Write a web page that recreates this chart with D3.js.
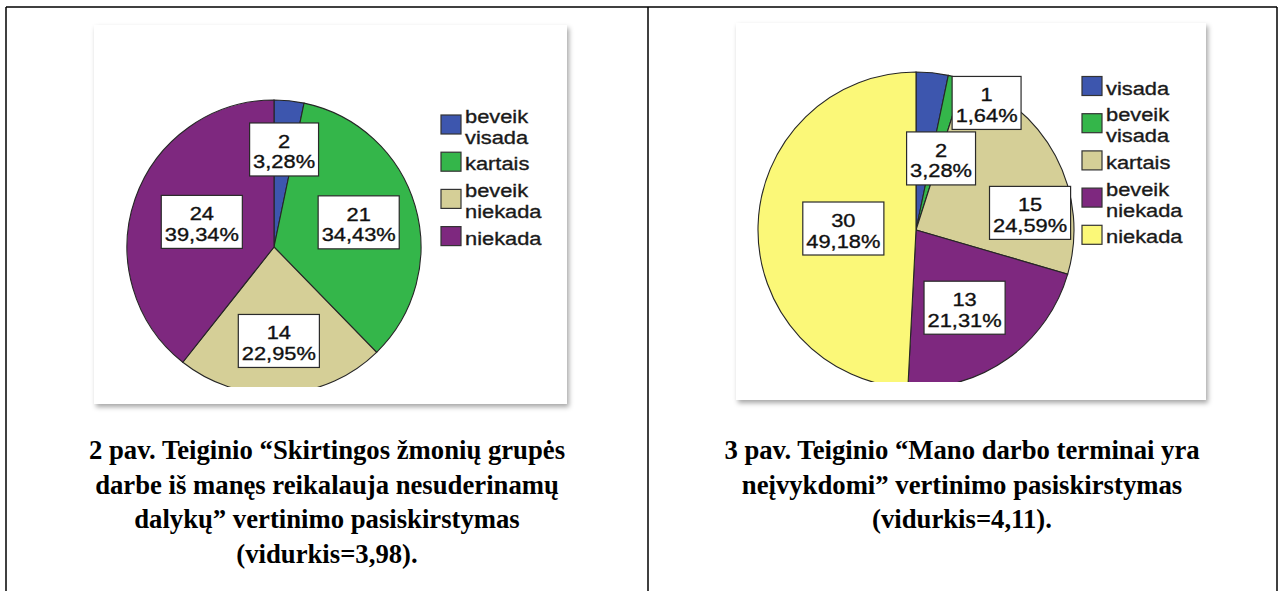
<!DOCTYPE html>
<html><head><meta charset="utf-8">
<script src="https://cdn.jsdelivr.net/npm/d3@7"></script>
<style>body{margin:0;background:#fff;} svg{display:block;}</style>
</head><body>
<svg id="c" width="1283" height="591"></svg>
<script>
// ---- data ----
const chart1Categories = ["beveik visada", "kartais", "beveik niekada", "niekada"];
const chart1Counts = [2, 21, 14, 24];
const chart2Categories = ["visada", "beveik visada", "kartais", "beveik niekada", "niekada"];
const chart2Counts = [2, 1, 15, 13, 30];
const caption1Lines = ["2 pav. Teiginio “Skirtingos žmonių grupės", "darbe iš manęs reikalauja nesuderinamų", "dalykų” vertinimo pasiskirstymas", "(vidurkis=3,98)."];
const caption2Lines = ["3 pav. Teiginio “Mano darbo terminai yra", "neįvykdomi” vertinimo pasiskirstymas", "(vidurkis=4,11)."];

// ---- styling / layout (kept separate from data) ----
const chart1Colors = ["#3d56ae", "#34b64a", "#d5cf97", "#7e287f"];
const chart2Colors = ["#3d56ae", "#34b64a", "#d5cf97", "#7e287f", "#fbf878"];
const chart1LabelRadius = [0.667, 0.60, 0.64, 0.52];
const chart1LabelShift = [0, 0, 0, 0];
const chart2LabelRadius = [0.48, 0.92, 0.73, 0.58, 0.46];
const chart2LabelShift = [13.4, 14.3, 19.5, 3.4, -0.3];

const svg = d3.select("#c");
const defs = svg.append("defs");
const f = defs.append("filter").attr("id", "sh").attr("x", "-5%").attr("y", "-5%").attr("width", "115%").attr("height", "115%");
f.append("feDropShadow").attr("dx", 2).attr("dy", 3).attr("stdDeviation", 2.5).attr("flood-color", "#000").attr("flood-opacity", 0.35);

// table borders
const bc = "#000";
[[6, 7, 1277, 7], [6, 7, 6, 591], [648, 7, 648, 591], [1277, 7, 1277, 591]].forEach(l =>
  svg.append("line").attr("x1", l[0]).attr("y1", l[1]).attr("x2", l[2]).attr("y2", l[3])
    .attr("stroke", bc).attr("stroke-width", 1.5));

const SX = 1.15;
const fontSans = "'Liberation Sans', Arial, sans-serif";

function drawPanel(cfg) {
  const {cats, counts, colors, lr, ls, box, cx, cy, r, clipBottom, legendX, id} = cfg;
  const total = d3.sum(counts);
  const pct = v => d3.format(".2f")(v / total * 100).replace(".", ",") + "%";

  svg.append("rect").attr("x", box.x).attr("y", box.y).attr("width", box.w).attr("height", box.h)
    .attr("fill", "#fff").attr("filter", "url(#sh)");

  defs.append("clipPath").attr("id", "clip" + id).append("rect")
    .attr("x", box.x).attr("y", box.y).attr("width", box.w).attr("height", clipBottom - box.y);

  const pie = d3.pie().sort(null).value(d => d);
  const arcs = pie(counts);
  const arc = d3.arc().innerRadius(0).outerRadius(r);
  const g = svg.append("g").attr("clip-path", `url(#clip${id})`)
    .append("g").attr("transform", `translate(${cx},${cy})`);
  g.selectAll("path").data(arcs).join("path")
    .attr("d", arc).attr("fill", (d, i) => colors[i])
    .attr("stroke", "#262626").attr("stroke-width", 1.1);

  // labels
  arcs.forEach((d, i) => {
    const a = (d.startAngle + d.endAngle) / 2 + ls[i] * Math.PI / 180;
    const rr = r * lr[i];
    const x = cx + rr * Math.sin(a), y = cy - rr * Math.cos(a);
    const lg = svg.append("g").attr("transform", `translate(${x},${y})`);
    const rect = lg.append("rect");
    const tg = lg.append("g").attr("transform", `scale(${SX},1)`);
    const lines = [String(counts[i]), pct(counts[i])];
    let maxW = 0;
    lines.forEach((t, k) => {
      const te = tg.append("text").attr("x", 0).attr("y", -1.5 + k * 20.5)
        .attr("text-anchor", "middle").attr("font-family", fontSans).attr("font-size", 19)
        .attr("fill", "#111").attr("stroke", "#111").attr("stroke-width", 0.35).text(t);
      maxW = Math.max(maxW, te.node().getComputedTextLength() * SX);
    });
    const w = maxW + 7, h = 53;
    rect.attr("x", -w / 2).attr("y", -h / 2).attr("width", w).attr("height", h)
      .attr("fill", "#fff").attr("stroke", "#2a2a2a").attr("stroke-width", 1.2);
  });

  // legend
  const lineH = 21, entryGap = 26.7;
  let base = cy - r + 22.5;
  cats.forEach((c, i) => {
    const parts = c.split(" ");
    const top = base - 15, bottom = base + (parts.length - 1) * lineH;
    const mid = (top + bottom) / 2 - 1;
    svg.append("rect").attr("x", legendX).attr("y", mid - 9.5).attr("width", 20).attr("height", 19)
      .attr("fill", colors[i]).attr("stroke", "#333").attr("stroke-width", 1.2);
    parts.forEach((p, k) => {
      svg.append("text").attr("transform", `translate(${legendX + 24},${base + k * lineH}) scale(${SX},1)`)
        .attr("font-family", fontSans).attr("font-size", 19).attr("fill", "#1a1a1a")
        .attr("stroke", "#1a1a1a").attr("stroke-width", 0.35).text(p);
    });
    base = bottom + entryGap;
  });
}

drawPanel({id: 1, cats: chart1Categories, counts: chart1Counts, colors: chart1Colors,
  lr: chart1LabelRadius, ls: chart1LabelShift,
  box: {x: 94, y: 25, w: 473, h: 379}, cx: 274, cy: 247, r: 147, clipBottom: 387, legendX: 441});
drawPanel({id: 2, cats: chart2Categories, counts: chart2Counts, colors: chart2Colors,
  lr: chart2LabelRadius, ls: chart2LabelShift,
  box: {x: 736, y: 23, w: 470, h: 377}, cx: 916, cy: 230, r: 158, clipBottom: 382, legendX: 1082});

// captions
function caption(lines, cx) {
  lines.forEach((t, k) => {
    svg.append("text").attr("x", cx).attr("y", 459 + k * 34.5).attr("text-anchor", "middle")
      .attr("font-family", "'Liberation Serif', 'Times New Roman', serif").attr("font-weight", "bold")
      .attr("font-size", 26.7).attr("fill", "#000").text(t);
  });
}
caption(caption1Lines, 327);
caption(caption2Lines, 962);
</script>
</body></html>
